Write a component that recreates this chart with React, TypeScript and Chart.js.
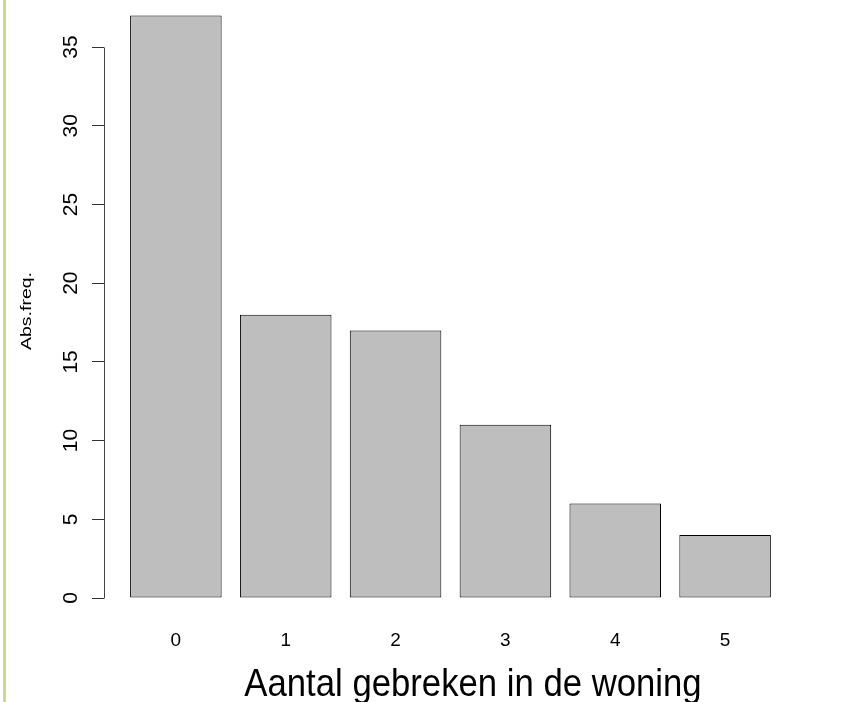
import React, { useEffect, useRef } from "react";
import { Chart, registerables } from "chart.js";

Chart.register(...registerables);

// ---- data ----
const categories: string[] = ["0", "1", "2", "3", "4", "5"];
const frequencies: number[] = [37, 18, 17, 11, 6, 4];
const yTickValues: number[] = [0, 5, 10, 15, 20, 25, 30, 35];
const xTitle = "Aantal gebreken in de woning";
const yTitle = "Abs.freq.";

// R barplot layout: bar width 1, space 0.2
const BAR_WIDTH = 1;
const BAR_SPACE = 0.2;
const barCenters = categories.map(
  (_, i) => BAR_SPACE + BAR_WIDTH / 2 + i * (BAR_WIDTH + BAR_SPACE)
);

const FONT = "'Liberation Sans', Arial, sans-serif";

const decorPlugin = {
  id: "rDecor",
  afterDraw(chart: any) {
    const y = chart.scales.y;
    const ctx = chart.ctx;
    const area = chart.chartArea;
    ctx.save();
    // y axis line (R style: only between first and last tick)
    const x = area.left + 0.5;
    ctx.strokeStyle = "#444";
    ctx.lineWidth = 1;
    ctx.beginPath();
    ctx.moveTo(x, Math.round(y.getPixelForValue(yTickValues[0])) + 0.5);
    ctx.lineTo(x, Math.round(y.getPixelForValue(yTickValues[yTickValues.length - 1])) + 0.5);
    ctx.stroke();

    // x axis title (narrow look)
    ctx.fillStyle = "#000";
    ctx.textAlign = "center";
    ctx.textBaseline = "alphabetic";
    ctx.font = `39px ${FONT}`;
    ctx.save();
    ctx.translate(473, 695.5);
    ctx.scale(0.89, 1);
    ctx.fillText(xTitle, 0, 0);
    ctx.restore();

    // y axis title (rotated, stretched along its length)
    ctx.save();
    ctx.font = `15px ${FONT}`;
    ctx.textBaseline = "alphabetic";
    ctx.translate(30.5, 311);
    ctx.rotate(-Math.PI / 2);
    ctx.scale(1.3, 1);
    ctx.fillText(yTitle, 0, 0);
    ctx.restore();

    ctx.restore();
  },
};

export default function App() {
  const ref = useRef<HTMLCanvasElement | null>(null);

  useEffect(() => {
    if (!ref.current) return;
    const chart = new Chart(ref.current, {
      type: "bar",
      data: {
        datasets: [
          {
            data: categories.map((_, i) => ({ x: barCenters[i], y: frequencies[i] })),
            backgroundColor: "#BEBEBE",
            borderColor: "#000000",
            borderWidth: 1,
            borderSkipped: false,
            categoryPercentage: 1,
            barPercentage: BAR_WIDTH / (BAR_WIDTH + BAR_SPACE),
          } as any,
        ],
      },
      options: {
        animation: false,
        responsive: false,
        devicePixelRatio: 1,
        layout: { padding: 0 },
        plugins: {
          legend: { display: false },
          tooltip: { enabled: false },
          title: { display: false },
        },
        scales: {
          x: {
            type: "linear",
            offset: false,
            min: -0.085,
            max: 7.977,
            grid: { display: false, drawTicks: false, tickLength: 0 },
            border: { display: false },
            afterBuildTicks: (s: any) => {
              s.ticks = barCenters.map((v) => ({ value: v }));
            },
            afterFit: (s: any) => {
              s.height = 80.7;
              s.paddingLeft = 0;
              s.paddingRight = 0;
            },
            ticks: {
              autoSkip: false,
              maxRotation: 0,
              minRotation: 0,
              padding: 8.4,
              color: "#000",
              font: { family: FONT, size: 19 },
              callback: (_v: any, i: number) => categories[i],
            },
            title: { display: false },
          },
          y: {
            type: "linear",
            min: -1.48,
            max: 37.99,
            afterBuildTicks: (s: any) => {
              s.ticks = yTickValues.map((v) => ({ value: v }));
            },
            afterFit: (s: any) => {
              s.width = 104;
              s.paddingTop = 0;
              s.paddingBottom = 0;
            },
            grid: {
              display: true,
              drawOnChartArea: false,
              drawTicks: true,
              tickLength: 12,
              color: "#333",
              lineWidth: 1,
            },
            border: { display: false },
            ticks: {
              minRotation: 90,
              maxRotation: 90,
              crossAlign: "center",
              padding: 9,
              color: "#000",
              font: { family: FONT, size: 21 },
              callback: (v: any) => String(v),
            },
            title: { display: false },
          },
        },
      },
      plugins: [decorPlugin],
    });
    return () => chart.destroy();
  }, []);

  return (
    <div
      style={{
        position: "fixed",
        left: 0,
        top: 0,
        width: 842,
        height: 702,
        background: "#fff",
        overflow: "hidden",
      }}
    >
      <div
        style={{
          position: "absolute",
          left: 3,
          top: 0,
          width: 3,
          height: 702,
          background: "#C6DC8C",
        }}
      />
      <canvas
        ref={ref}
        width={842}
        height={702}
        style={{ position: "absolute", left: 0, top: 0, width: 842, height: 702 }}
      />
    </div>
  );
}
